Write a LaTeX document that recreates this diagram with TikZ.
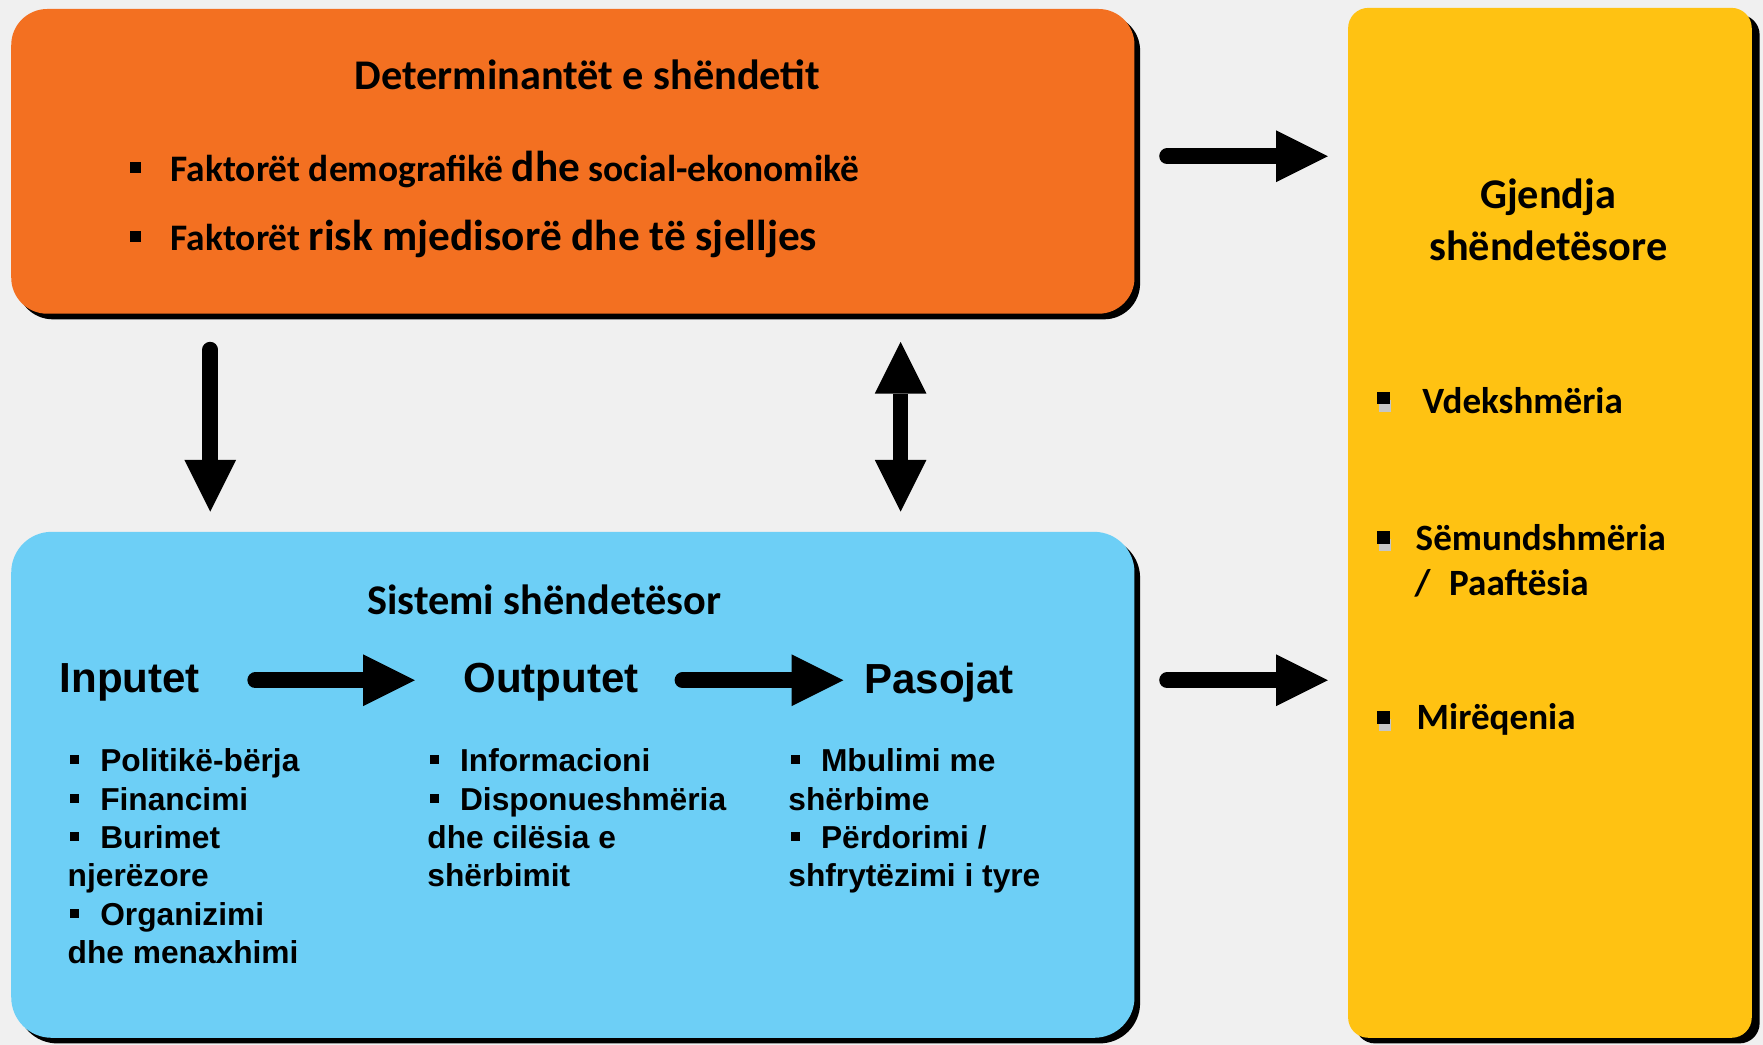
\documentclass[tikz,border=0pt]{standalone}
\usepackage{fontspec}
\setmainfont{Carlito}
\newfontfamily\arialf{Liberation Sans}
\usetikzlibrary{arrows.meta}
\definecolor{bgc}{RGB}{240,240,240}
\definecolor{orangec}{RGB}{243,112,33}
\definecolor{bluec}{RGB}{109,207,246}
\definecolor{yellowc}{RGB}{255,194,18}
\newcommand\bsq{\hspace*{2pt}\rule[6.8pt]{8pt}{8pt}\hspace{19pt}}
\begin{document}
\begin{tikzpicture}[x=1pt,y=-1pt,
  shadowbox/.style={fill=black},
  ttl/.style={inner sep=0, font=\bfseries\fontsize{37.6}{45}\selectfont},
  hdr/.style={anchor=base west, inner sep=0, font=\arialf\bfseries\fontsize{37.4}{44}\selectfont},
  li/.style={anchor=base west, inner sep=0, font=\arialf\bfseries\fontsize{28.2}{34}\selectfont},
  yli/.style={anchor=base west, inner sep=0, font=\bfseries\fontsize{33}{39}\selectfont},
  osq/.style={fill=black, inner sep=0, minimum size=10pt},
  ysq/.style={fill=black, inner sep=0, minimum size=11pt},
  blk/.style={line width=14pt, line cap=round, -{Triangle[length=46pt,width=46pt,line width=0pt]}},
  dblk/.style={line width=14pt, {Triangle[length=46pt,width=46pt,line width=0pt]}-{Triangle[length=46pt,width=46pt,line width=0pt]}}
]
\useasboundingbox (0,0) rectangle (1568,929);
\fill[bgc] (0,0) rectangle (1568,929);

% boxes with shadows
\fill[shadowbox, rounded corners=32pt] (15,13) rectangle (1014,284);
\fill[orangec, rounded corners=32pt] (10,8) rectangle (1009,279);
\fill[shadowbox, rounded corners=36pt] (15,478) rectangle (1014,928);
\fill[bluec, rounded corners=36pt] (10,473) rectangle (1009,923);
\fill[shadowbox, rounded corners=18pt] (1205,13) rectangle (1565,928);
\fill[yellowc, rounded corners=18pt] (1199,7) rectangle (1558,923);

% orange box text
\node[ttl, anchor=base] (dt) at (522.5,79.5) {Determinantët e shëndetit};
\node[osq] (ob1) at (120.75,149) {};
\node[anchor=base west, inner sep=0, font=\bfseries] (ol1) at (151.7,161.6)
  {{\fontsize{33.3}{40}\selectfont Faktorët demografikë }{\fontsize{38.5}{46}\selectfont dhe}{\fontsize{33.3}{40}\selectfont\ social-ekonomikë}};
\node[osq] (ob2) at (120.75,210.4) {};
\node[anchor=base west, inner sep=0, font=\bfseries] (ol2) at (151.7,223)
  {{\fontsize{33.3}{40}\selectfont Faktorët }{\fontsize{38.5}{46}\selectfont risk mjedisorë dhe të sjelljes}};

% yellow box text
\node[ttl, anchor=base] (gj1) at (1377,185.3) {Gjendja};
\node[ttl, anchor=base] (gj2) at (1377,232) {shëndetësore};
\fill[gray!45] (1226.3,355.8) rectangle (1237.5,366.5);
\node[ysq] (yb1) at (1230.4,354.2) {};
\node[yli] (yl1) at (1264.8,367.7) {Vdekshmëria};
\fill[gray!45] (1226.3,479.7) rectangle (1237.5,490.4);
\node[ysq] (yb2) at (1230.4,478.2) {};
\node[yli] (yl2) at (1258.9,490) {Sëmundshmëria};
\node[yli] (yl3) at (1258,529.4) {/\hspace{0.5em}Paaftësia};
\fill[gray!45] (1226.3,639.7) rectangle (1237.5,650.4);
\node[ysq] (yb3) at (1230.4,638.2) {};
\node[yli] (yl4) at (1259.8,648.9) {Mirëqenia};

% blue box text
\node[ttl, anchor=base] (ss) at (484,546.6) {Sistemi shëndetësor};
\node[hdr] (inp) at (53,615.5) {Inputet};
\node[hdr] (outp) at (412,615.5) {Outputet};
\node[hdr] (pas) at (768.5,616.5) {Pasojat};

\node[li] (i1) at (60,686.5) {\bsq Politikë-bërja};
\node[li] (i2) at (60,720.6) {\bsq Financimi};
\node[li] (i3) at (60,754.7) {\bsq Burimet};
\node[li] (i4) at (60,788.8) {njerëzore};
\node[li] (i5) at (60,822.9) {\bsq Organizimi};
\node[li] (i6) at (60,857) {dhe menaxhimi};

\node[li] (o1) at (380,686.5) {\bsq Informacioni};
\node[li] (o2) at (380,720.6) {\bsq Disponueshmëria};
\node[li] (o3) at (380,754.7) {dhe cilësia e};
\node[li] (o4) at (380,788.8) {shërbimit};

\node[li] (p1) at (701,686.5) {\bsq Mbulimi me};
\node[li] (p2) at (701,720.6) {shërbime};
\node[li] (p3) at (701,754.7) {\bsq Përdorimi /};
\node[li] (p4) at (701,788.8) {shfrytëzimi i tyre};

% arrow end points
\coordinate (a1s) at (1038,139);
\coordinate (a1e) at (1181,139);
\coordinate (a2s) at (1038,605);
\coordinate (a2e) at (1181,605);
\coordinate (a3s) at (227,605);
\coordinate (a3e) at (369,605);
\coordinate (a4s) at (607,605);
\coordinate (a4e) at (750,605);
\coordinate (a5s) at (187,311);
\coordinate (a5e) at (187,455);
\coordinate (a6s) at (801,304);
\coordinate (a6e) at (801,455);

\draw[blk] (a1s) -- (a1e);
\draw[blk] (a2s) -- (a2e);
\draw[blk] (a3s) -- (a3e);
\draw[blk] (a4s) -- (a4e);
\draw[blk] (a5s) -- (a5e);
\draw[dblk] (a6s) -- (a6e);
\end{tikzpicture}
\end{document}
